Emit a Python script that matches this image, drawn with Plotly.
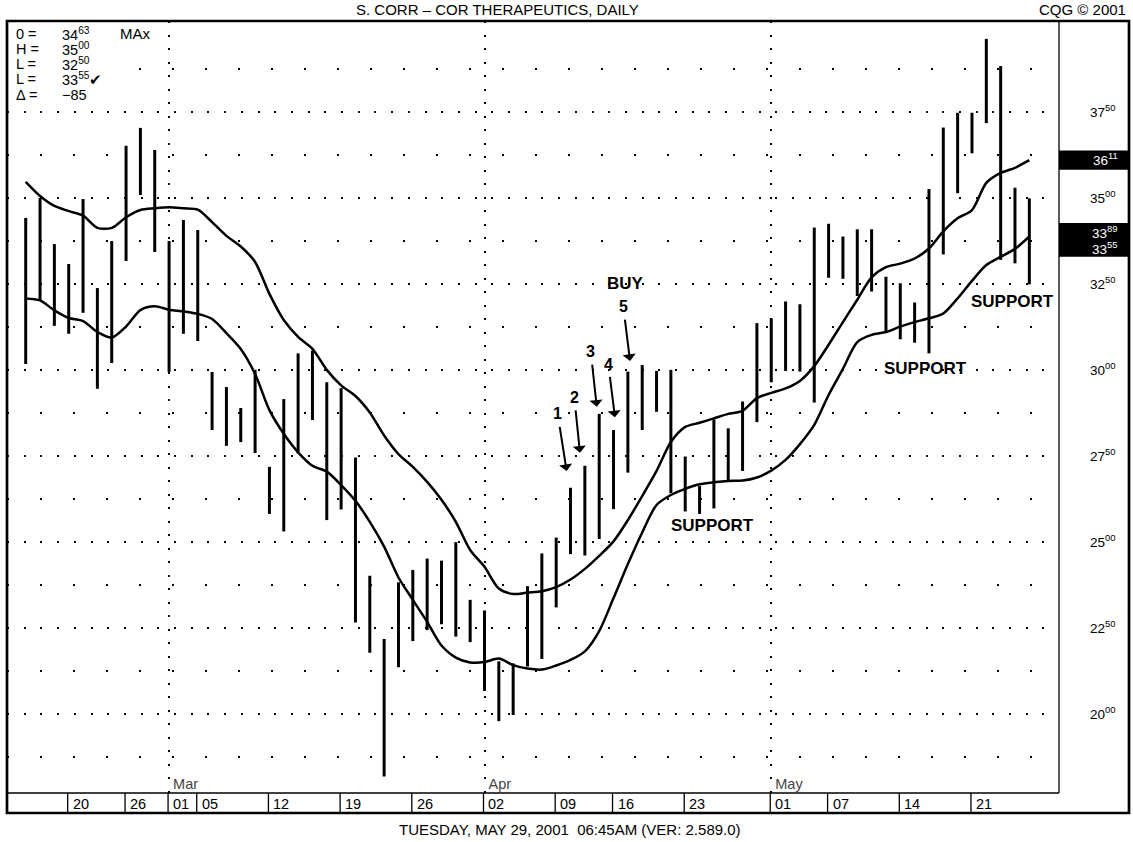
import plotly.graph_objects as go

FONT = 'Liberation Sans, Arial, Helvetica, sans-serif'

# trading days on the chart (one bar each)
dates = [
    '2001-02-14', '2001-02-15', '2001-02-16', '2001-02-20', '2001-02-21',
    '2001-02-22', '2001-02-23', '2001-02-26', '2001-02-27', '2001-02-28',
    '2001-03-01', '2001-03-02', '2001-03-05', '2001-03-06', '2001-03-07',
    '2001-03-08', '2001-03-09', '2001-03-12', '2001-03-13', '2001-03-14',
    '2001-03-15', '2001-03-16', '2001-03-19', '2001-03-20', '2001-03-21',
    '2001-03-22', '2001-03-23', '2001-03-26', '2001-03-27', '2001-03-28',
    '2001-03-29', '2001-03-30', '2001-04-02', '2001-04-03', '2001-04-04',
    '2001-04-05', '2001-04-06', '2001-04-09', '2001-04-10', '2001-04-11',
    '2001-04-12', '2001-04-16', '2001-04-17', '2001-04-18', '2001-04-19',
    '2001-04-20', '2001-04-23', '2001-04-24', '2001-04-25', '2001-04-26',
    '2001-04-27', '2001-04-30', '2001-05-01', '2001-05-02', '2001-05-03',
    '2001-05-04', '2001-05-07', '2001-05-08', '2001-05-09', '2001-05-10',
    '2001-05-11', '2001-05-14', '2001-05-15', '2001-05-16', '2001-05-17',
    '2001-05-18', '2001-05-21', '2001-05-22', '2001-05-23', '2001-05-24',
    '2001-05-25',
]

highs = [
    34.43, 35.01, 33.67, 33.09, 34.98, 32.39, 33.76, 36.53, 37.05, 36.41,
    33.76, 34.37, 34.08, 29.95, 29.51, 28.90, 30.01, 27.19, 29.16, 30.49,
    30.57, 29.65, 29.48, 27.46, 24.02, 22.18, 23.83, 24.19, 24.52, 24.46,
    25.00, 23.32, 23.01, 21.53, 21.47, 23.72, 24.67, 25.13, 26.58, 27.22,
    28.73, 28.26, 29.96, 30.15, 29.98, 30.01, 27.49, 26.63, 28.57, 28.31,
    29.09, 31.37, 31.51, 32.00, 31.92, 34.15, 34.26, 33.89, 34.10, 34.10,
    32.72, 32.53, 31.97, 35.27, 37.06, 37.49, 37.49, 39.64, 38.85, 35.31,
    35.00,
]

lows = [
    30.18, 32.04, 31.29, 31.06, 31.67, 29.46, 30.21, 33.18, 35.10, 33.44,
    29.95, 31.06, 30.85, 28.26, 27.80, 27.91, 27.59, 25.82, 25.31, 27.58,
    28.55, 25.64, 25.95, 22.66, 21.78, 18.18, 21.36, 22.12, 22.44, 22.61,
    22.25, 22.09, 20.67, 19.79, 19.97, 21.38, 21.60, 23.10, 24.65, 24.61,
    25.09, 25.96, 27.02, 28.26, 28.79, 26.42, 25.89, 25.82, 25.98, 26.76,
    27.07, 28.49, 29.65, 29.98, 29.96, 29.06, 32.69, 32.66, 32.16, 32.29,
    31.08, 30.90, 30.80, 30.49, 33.37, 35.15, 36.31, 37.19, 33.21, 33.11,
    32.50,
]

ma_upper = [
    35.48, 35.07, 34.78, 34.63, 34.50, 34.14, 34.14, 34.45, 34.66, 34.71,
    34.74, 34.71, 34.67, 34.31, 33.91, 33.60, 33.15, 32.22, 31.46, 30.97,
    30.62, 30.01, 29.56, 29.25, 28.77, 28.10, 27.56, 27.19, 26.75, 26.23,
    25.59, 24.77, 24.28, 23.65, 23.49, 23.53, 23.57, 23.69, 23.91, 24.22,
    24.60, 25.02, 25.64, 26.34, 27.07, 27.91, 28.35, 28.47, 28.60, 28.73,
    28.82, 29.19, 29.34, 29.47, 29.69, 30.12, 30.74, 31.40, 32.05, 32.70,
    33.00, 33.10, 33.25, 33.54, 34.04, 34.42, 34.66, 35.45, 35.74, 35.89,
    36.11,
]

ma_lower = [
    32.09, 32.03, 31.74, 31.52, 31.43, 31.11, 30.95, 31.27, 31.75, 31.86,
    31.76, 31.71, 31.64, 31.49, 31.08, 30.62, 29.89, 28.84, 28.15, 27.61,
    27.22, 27.05, 26.66, 26.20, 25.59, 24.87, 23.97, 23.32, 22.68, 21.99,
    21.64, 21.50, 21.51, 21.61, 21.42, 21.32, 21.29, 21.41, 21.57, 21.82,
    22.41, 23.37, 24.36, 25.28, 26.08, 26.37, 26.55, 26.68, 26.74, 26.78,
    26.79, 26.88, 27.08, 27.39, 27.85, 28.41, 29.28, 30.04, 30.82, 31.03,
    31.11, 31.27, 31.40, 31.51, 31.65, 32.09, 32.60, 33.06, 33.30, 33.53,
    33.89,
]

# readout of the last bar
last_open = 34.63
last_close = 33.55
net_change = -85

price_ticks = [20.0, 22.5, 25.0, 27.5, 30.0, 32.5, 35.0, 37.5]
price_minor = [18.75, 21.25, 23.75, 26.25, 28.75, 31.25, 33.75, 36.25, 38.75]

month_starts = ['2001-03-01', '2001-04-02', '2001-05-01']
month_names = ['Mar', 'Apr', 'May']

strip_days = [
    '2001-02-20', '2001-02-26', '2001-03-01', '2001-03-05', '2001-03-12',
    '2001-03-19', '2001-03-26', '2001-04-02', '2001-04-09', '2001-04-16',
    '2001-04-23', '2001-05-01', '2001-05-07', '2001-05-14', '2001-05-21',
]

# numbered entry arrows: label and arrow tip (bar index, price)
entries = ['1', '2', '3', '4', '5']
entry_x = [37.73, 38.66, 39.83, 41.10, 42.15]
entry_y = [27.07, 27.60, 28.94, 28.63, 30.27]

support_x = [47.87, 62.73, 68.86]
support_y = [25.47, 30.04, 32.00]

# page geometry (px)
L, R, T, B = 7, 1059, 21, 793
BOTTOM, RIGHT = 813, 1129


def px(x):
    return (x - L) / (R - L)


def py(y):
    return (B - y) / (B - T)


def fmt(p):
    whole = int(p + 1e-9)
    cents = int(round((p - whole) * 100))
    return f'{whole}<sup>{cents:02d}</sup>'


fig = go.Figure()

bar_x, bar_y = [], []
for i, (hi, lo) in enumerate(zip(highs, lows)):
    bar_x += [i, i, None]
    bar_y += [lo, hi, None]

fig.add_trace(go.Scatter(x=bar_x, y=bar_y, mode='lines',
                         line=dict(color='black', width=3),
                         hoverinfo='skip'))
idx = list(range(len(dates)))
for ma in (ma_upper, ma_lower):
    fig.add_trace(go.Scatter(x=idx, y=ma, mode='lines',
                             line=dict(color='black', width=2.5,
                                       shape='spline', smoothing=0.8),
                             hoverinfo='skip'))

shapes = [
    # blank patch behind the readout (grid does not run through it)
    dict(type='rect', xref='paper', yref='paper', x0=0, x1=px(110),
         y0=py(100), y1=1, fillcolor='white', line=dict(width=0)),
    dict(type='rect', xref='paper', yref='paper', x0=0, x1=px(RIGHT),
         y0=py(BOTTOM), y1=1, line=dict(color='black', width=2.7)),
    dict(type='line', xref='paper', yref='paper', x0=1, x1=1, y0=0, y1=1,
         line=dict(color='black', width=1.3)),
    dict(type='line', xref='paper', yref='paper', x0=0, x1=1, y0=0, y1=0,
         line=dict(color='black', width=1.3)),
    # flags for the latest values
    dict(type='rect', xref='paper', yref='y', x0=1, x1=px(RIGHT),
         y0=ma_upper[-1] - 0.28, y1=ma_upper[-1] + 0.28,
         fillcolor='black', line=dict(width=0)),
    dict(type='rect', xref='paper', yref='y', x0=1, x1=px(RIGHT),
         y0=last_close - 0.25, y1=ma_lower[-1] + 0.39,
         fillcolor='black', line=dict(width=0)),
]

annotations = []
for d in strip_days:
    i = dates.index(d)
    shapes.append(dict(type='line', xref='x', yref='paper', x0=i - 0.07,
                       x1=i - 0.07, y0=py(BOTTOM), y1=0,
                       line=dict(color='black', width=1.3)))
    annotations.append(dict(x=i - 0.07, y=py(803.5), xref='x', yref='paper',
                            text=d[-2:], showarrow=False, xanchor='left',
                            xshift=3, yanchor='middle',
                            font=dict(size=14.5)))

# readout box top left
rows = ['0 =', 'H =', 'L =', 'L =', '\u0394 =']
vals = [fmt(last_open), fmt(highs[-1]), fmt(lows[-1]),
        fmt(last_close) + '\u2714', '\u2212' + str(abs(net_change))]
row_y = [34, 49, 64, 79, 95]
for lab, val, yy in zip(rows, vals, row_y):
    annotations.append(dict(x=px(14), y=py(yy), xref='paper', yref='paper',
                            text=lab, showarrow=False, xanchor='left',
                            yanchor='middle', font=dict(size=14.5)))
    annotations.append(dict(x=px(60), y=py(yy), xref='paper', yref='paper',
                            text=val, showarrow=False, xanchor='left',
                            yanchor='middle', font=dict(size=14.5)))
annotations.append(dict(x=px(118), y=py(34), xref='paper', yref='paper',
                        text='MAx', showarrow=False, xanchor='left',
                        yanchor='middle', font=dict(size=15)))

# titles
annotations += [
    dict(x=px(497), y=py(10), xref='paper', yref='paper',
         text='S. CORR \u2013 COR THERAPEUTICS, DAILY', showarrow=False,
         xanchor='center', yanchor='middle', font=dict(size=15)),
    dict(x=px(1128), y=py(10), xref='paper', yref='paper',
         text='CQG \u00a9 2001', showarrow=False, xanchor='right',
         yanchor='middle', font=dict(size=15)),
    dict(x=px(570), y=py(829), xref='paper', yref='paper',
         text='TUESDAY, MAY 29, 2001 \u00a006:45AM (VER: 2.589.0)',
         showarrow=False, xanchor='center', yanchor='middle',
         font=dict(size=15)),
]

# labels inside the flags
flag_x = px(1105)
annotations += [
    dict(x=flag_x, y=ma_upper[-1] + 0.04, xref='paper', yref='y',
         text=fmt(ma_upper[-1]), showarrow=False, xanchor='center',
         yanchor='middle', font=dict(size=13.5, color='white')),
    dict(x=flag_x, y=ma_lower[-1] + 0.14, xref='paper', yref='y',
         text=fmt(ma_lower[-1]), showarrow=False, xanchor='center',
         yanchor='middle', font=dict(size=13.5, color='white')),
    dict(x=flag_x, y=last_close + 0.02, xref='paper', yref='y',
         text=fmt(last_close), showarrow=False, xanchor='center',
         yanchor='middle', font=dict(size=13.5, color='white')),
]

# trade annotations
annotations.append(dict(x=41.80, y=32.51, xref='x', yref='y',
                        text='<b>BUY</b>', showarrow=False,
                        font=dict(size=17)))
text_dx = [-9, -5.7, -6, -6.7, -6.7]
text_dy = [-57, -55.4, -55, -53.3, -54.3]
for lab, xx, yy, dx, dy in zip(entries, entry_x, entry_y, text_dx, text_dy):
    annotations.append(dict(x=xx, y=yy, xref='x', yref='y',
                            text=f'<b>{lab}</b>', showarrow=True,
                            ax=dx, ay=dy, arrowhead=1, arrowsize=1.1,
                            arrowwidth=2, arrowcolor='black',
                            startstandoff=3, font=dict(size=16)))
for xx, yy in zip(support_x, support_y):
    annotations.append(dict(x=xx, y=yy, xref='x', yref='y',
                            text='<b>SUPPORT</b>', showarrow=False,
                            font=dict(size=17)))

fig.update_layout(
    width=1133, height=842,
    margin=dict(l=L, r=1133 - R, t=T, b=842 - B),
    paper_bgcolor='white', plot_bgcolor='white',
    showlegend=False,
    font=dict(family=FONT, color='black', size=14),
    shapes=shapes,
    annotations=annotations,
    xaxis=dict(
        range=[-1.304, 72.07],
        tickmode='array',
        tickvals=[dates.index(d) for d in month_starts],
        ticktext=month_names,
        ticklabelposition='inside right',
        ticklabelshift=4,
        ticklabelstandoff=-5,
        tickfont=dict(size=14.5),
        ticks='',
        showgrid=True, gridcolor='black', gridwidth=1.5,
        griddash='2px,11.5px',
        zeroline=False, showline=False,
    ),
    yaxis=dict(
        range=[17.70, 40.16],
        side='right',
        tickmode='array',
        tickvals=price_ticks,
        ticktext=[fmt(p) for p in price_ticks],
        tickfont=dict(size=13.5),
        ticks='',
        ticklabelstandoff=30,
        showgrid=True, gridcolor='black', gridwidth=1.5,
        griddash='2px,14.7px',
        minor=dict(tickmode='array', tickvals=price_minor, showgrid=True,
                   gridcolor='black', gridwidth=1.5, griddash='2px,31px'),
        zeroline=False, showline=False,
    ),
)

# the page's default body margin would shift the whole chart by 8px
fig.write_html('out.html', config={'displayModeBar': False},
               post_script="document.body.style.margin='0px';")
